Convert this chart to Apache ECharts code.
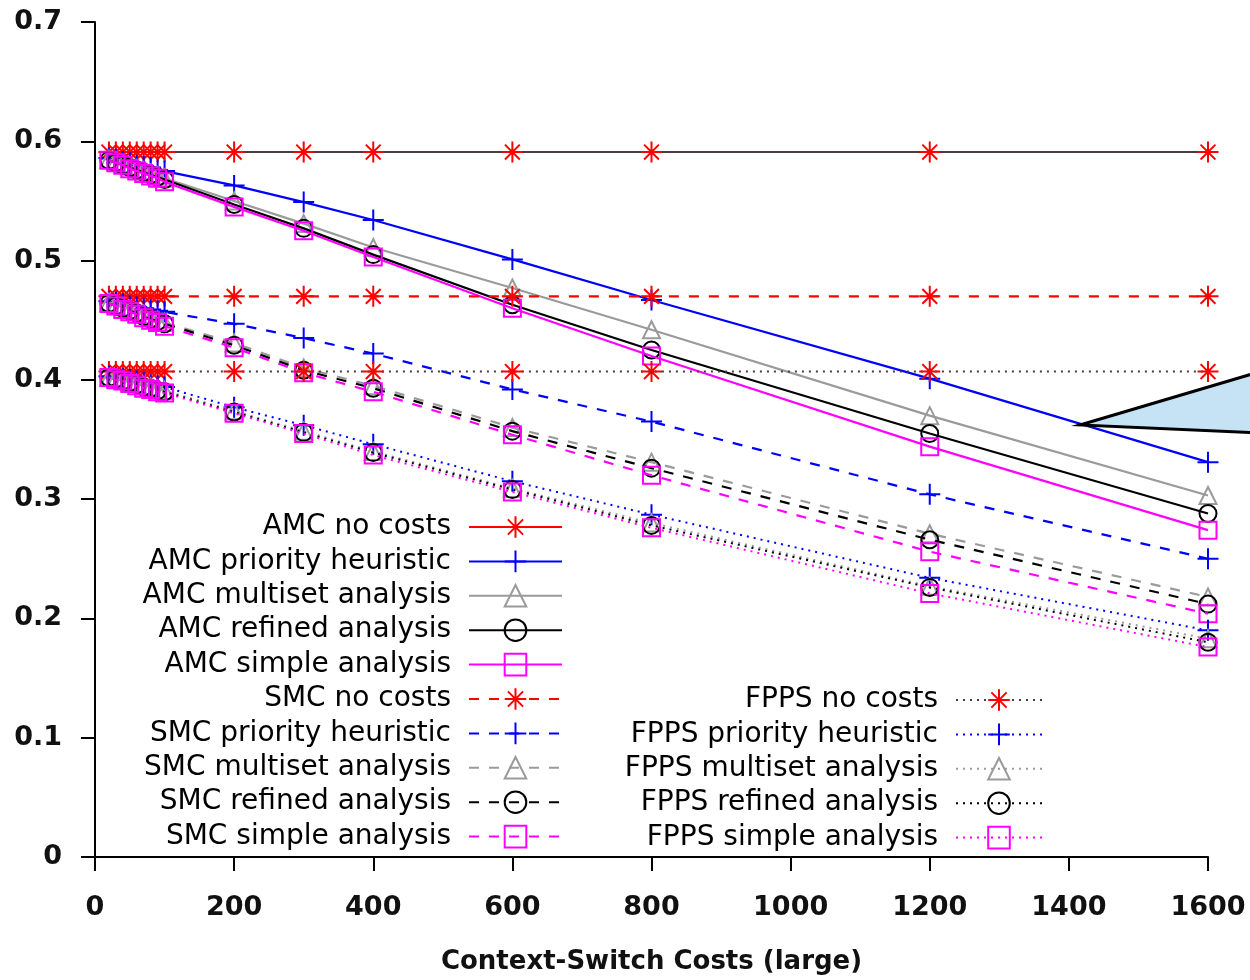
<!DOCTYPE html>
<html>
<head>
<meta charset="utf-8">
<script src="https://cdn.jsdelivr.net/npm/echarts@6/dist/echarts.min.js"></script>
<style>
html,body{margin:0;padding:0;background:#fff;}
#chart{width:1250px;height:980px;}
</style>
</head>
<body>
<div id="chart"></div>
<script>
// ---- data ----
const xValues = [20, 30, 40, 50, 60, 70, 80, 90, 100, 200, 300, 400, 600, 800, 1200, 1600];
const xTicks = [0, 200, 400, 600, 800, 1000, 1200, 1400, 1600];
const yTicks = [0, 0.1, 0.2, 0.3, 0.4, 0.5, 0.6, 0.7];
const xAxisTitle = 'Context-Switch Costs (large)';

const amcNoCosts   = [0.591,0.591,0.591,0.591,0.591,0.591,0.591,0.591,0.591,0.591,0.591,0.591,0.591,0.591,0.591,0.591];
const amcPriority  = [0.586,0.585,0.583,0.582,0.580,0.579,0.578,0.576,0.575,0.563,0.549,0.534,0.501,0.467,0.401,0.331];
const amcMultiset  = [0.585,0.583,0.581,0.579,0.577,0.575,0.573,0.571,0.569,0.550,0.531,0.511,0.477,0.442,0.370,0.303];
const amcRefined   = [0.584,0.582,0.580,0.578,0.576,0.574,0.572,0.570,0.568,0.547,0.527,0.505,0.463,0.425,0.355,0.288];
const amcSimple    = [0.584,0.582,0.580,0.577,0.575,0.573,0.571,0.569,0.566,0.545,0.525,0.503,0.460,0.420,0.344,0.274];

const smcNoCosts   = [0.470,0.470,0.470,0.470,0.470,0.470,0.470,0.470,0.470,0.470,0.470,0.470,0.470,0.470,0.470,0.470];
const smcPriority  = [0.466,0.465,0.464,0.462,0.461,0.460,0.459,0.458,0.457,0.447,0.435,0.422,0.392,0.365,0.304,0.250];
const smcMultiset  = [0.465,0.463,0.461,0.459,0.457,0.455,0.452,0.450,0.448,0.431,0.410,0.395,0.360,0.331,0.271,0.218];
const smcRefined   = [0.464,0.462,0.460,0.458,0.456,0.453,0.451,0.449,0.447,0.429,0.408,0.393,0.357,0.326,0.266,0.212];
const smcSimple    = [0.464,0.462,0.459,0.457,0.455,0.452,0.450,0.448,0.445,0.427,0.406,0.390,0.354,0.320,0.256,0.204];

const fppsNoCosts  = [0.407,0.407,0.407,0.407,0.407,0.407,0.407,0.407,0.407,0.407,0.407,0.407,0.407,0.407,0.407,0.407];
const fppsPriority = [0.403,0.402,0.401,0.400,0.399,0.398,0.396,0.395,0.394,0.377,0.362,0.346,0.315,0.287,0.234,0.190];
const fppsMultiset = [0.402,0.401,0.400,0.398,0.397,0.395,0.394,0.392,0.391,0.374,0.357,0.340,0.309,0.280,0.227,0.183];
const fppsRefined  = [0.402,0.401,0.399,0.398,0.396,0.394,0.393,0.391,0.390,0.373,0.356,0.339,0.308,0.278,0.226,0.180];
const fppsSimple   = [0.402,0.400,0.399,0.397,0.395,0.393,0.392,0.390,0.389,0.372,0.355,0.337,0.306,0.276,0.221,0.176];

const seriesNames = [
  'AMC no costs','AMC priority heuristic','AMC multiset analysis','AMC refined analysis','AMC simple analysis',
  'SMC no costs','SMC priority heuristic','SMC multiset analysis','SMC refined analysis','SMC simple analysis',
  'FPPS no costs','FPPS priority heuristic','FPPS multiset analysis','FPPS refined analysis','FPPS simple analysis'
];
const seriesValues = [
  amcNoCosts, amcPriority, amcMultiset, amcRefined, amcSimple,
  smcNoCosts, smcPriority, smcMultiset, smcRefined, smcSimple,
  fppsNoCosts, fppsPriority, fppsMultiset, fppsRefined, fppsSimple
];

// ---- styles ----
const ASTERISK = 'path://M0,10L20,10M10,0L10,20M2.93,2.93L17.07,17.07M17.07,2.93L2.93,17.07';
const PLUS = 'path://M0,10L20,10M10,0L10,20';
const variantStyle = [
  {color:'#ff0000', symbol: ASTERISK, size: 21},
  {color:'#0000ff', symbol: PLUS, size: 21},
  {color:'#9a9a9a', symbol: 'triangle', size: 17},
  {color:'#000000', symbol: 'circle', size: 17},
  {color:'#ff00ff', symbol: 'rect', size: 17}
];
const groupLine = [
  {type:'solid', width:2.2},
  {type:[10,10], width:2.2},
  {type:[2,5], width:2}
];
const FONT = 'DejaVu Sans';

const series = seriesNames.map((name, i) => {
  const g = Math.floor(i / 5), v = i % 5;
  const vs = variantStyle[v];
  let lineColor = vs.color;
  if (v === 0 && g !== 1) lineColor = '#4a3c3c';
  return {
    name: name,
    type: 'line',
    data: xValues.map((x, k) => [x, seriesValues[i][k]]),
    symbol: vs.symbol,
    symbolSize: vs.size,
    showAllSymbol: true,
    color: vs.color,
    lineStyle: {color: lineColor, width: groupLine[g].width, type: groupLine[g].type},
    itemStyle: {color: 'rgba(0,0,0,0)', borderColor: vs.color, borderWidth: 2},
    emphasis: {disabled: true},
    z: 2 + i
  };
});

function legendItems(from, to) {
  const arr = [];
  for (let i = from; i < to; i++) {
    const v = i % 5;
    const item = {name: seriesNames[i], itemStyle: {color: 'rgba(0,0,0,0)', borderColor: variantStyle[v].color, borderWidth: 2}};
    if (i === 0) item.lineStyle = {color: '#ff0000'};
    arr.push(item);
  }
  return arr;
}

const legendCommon = {
  orient: 'vertical',
  align: 'right',
  padding: 0,
  itemHeight: 27,
  itemGap: 6.4,
  selectedMode: false,
  textStyle: {fontFamily: FONT, fontSize: 28, color: '#000', lineHeight: 28, padding: [0, 13, 0, 0]}
};

const option = {
  animation: false,
  backgroundColor: '#fff',
  grid: {left: 95, right: 42, top: 22, bottom: 113, containLabel: false},
  xAxis: {
    type: 'value', min: xTicks[0], max: xTicks[xTicks.length - 1], interval: 200,
    name: xAxisTitle, nameLocation: 'middle', nameGap: 92,
    nameTextStyle: {fontFamily: FONT, fontSize: 26, fontWeight: 'bold', color: '#111'},
    axisLine: {show: true, lineStyle: {color: '#000', width: 2}},
    axisTick: {show: true, inside: false, length: 14, lineStyle: {color: '#000', width: 2}},
    axisLabel: {fontFamily: FONT, fontSize: 27, fontWeight: 'bold', color: '#111', margin: 37,
      formatter: v => xTicks.indexOf(v) >= 0 ? String(v) : ''},
    splitLine: {show: false}
  },
  yAxis: {
    type: 'value', min: yTicks[0], max: yTicks[yTicks.length - 1], interval: 0.1,
    axisLine: {show: true, onZero: false, lineStyle: {color: '#000', width: 2}},
    axisTick: {show: true, inside: false, length: 14, lineStyle: {color: '#000', width: 2}},
    axisLabel: {fontFamily: FONT, fontSize: 27, fontWeight: 'bold', color: '#111', margin: 33,
      formatter: v => { const t = yTicks.find(y => Math.abs(y - v) < 1e-9); return t === undefined ? '' : (t === 0 ? '0' : t.toFixed(1)); }},
    splitLine: {show: false}
  },
  legend: [
    Object.assign({}, legendCommon, {right: 687, top: 513, itemWidth: 93, data: legendItems(0, 10)}),
    Object.assign({}, legendCommon, {right: 207, top: 686, itemWidth: 86, data: legendItems(10, 15)})
  ],
  graphic: [{
    type: 'polygon', z: 100,
    shape: {points: [[1080, 425], [1262, 371], [1262, 433]]},
    style: {fill: '#c6e3f6', stroke: '#000', lineWidth: 3, lineJoin: 'miter'}
  }],
  series: series
};

const chart = echarts.init(document.getElementById('chart'), null, {renderer: 'canvas'});
chart.setOption(option);
</script>
</body>
</html>
